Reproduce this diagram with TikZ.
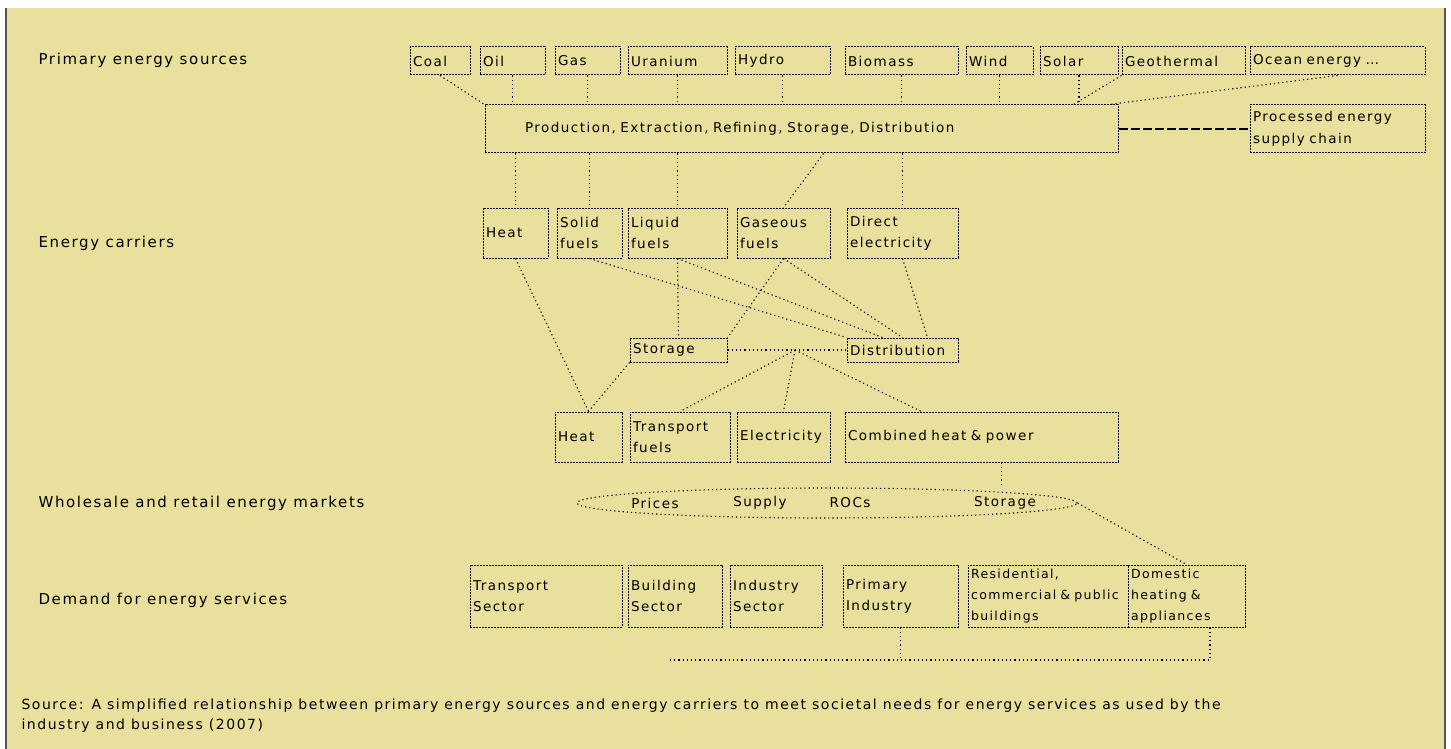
\documentclass[tikz,border=0pt]{standalone}
\usepackage{fontspec}
\setmainfont{DejaVu Sans}
\newfontfamily\spaced[LetterSpace=11]{DejaVu Sans}
\usetikzlibrary{shapes.geometric}
\definecolor{khaki}{RGB}{232,224,156}
\definecolor{frame}{RGB}{85,85,85}
\begin{document}
\begin{tikzpicture}[x=1pt,y=1pt,yscale=-1,
  box/.style={draw, dash pattern=on 1.6pt off 1.4pt, line width=1pt, inner xsep=3pt, inner ysep=2pt,
    font=\spaced\fontsize{13.5}{21}\selectfont, align=left, anchor=center},
  lnk/.style={dash pattern=on 1.2pt off 3pt, line width=1.1pt},
  rowlabel/.style={anchor=west, font=\spaced\fontsize{15}{18}\selectfont},
  mkt/.style={font=\spaced\fontsize{13.5}{16}\selectfont}]

\useasboundingbox (0,0) rectangle (1451,749);
\fill [khaki] (6,8) rectangle (1445,749);
\draw [frame, line width=1.2pt] (6,8) -- (6,749) (1445,8) -- (1445,749);

% row labels
\node [rowlabel] (lprim) at (35,60) {Primary energy sources};
\node [rowlabel] (lcarr) at (35,243) {Energy carriers};
\node [rowlabel] (lmark) at (35,503) {Wholesale and retail energy markets};
\node [rowlabel] (ldem) at (35,600) {Demand for energy services};

% primary sources
\node [box, text width=54, minimum height=28] (coal) at (440,61) {Coal};
\node [box, text width=59, minimum height=28] (oil) at (512.5,61) {Oil};
\node [box, text width=59, minimum height=28] (gas) at (587.5,61) {Gas};
\node [box, text width=93, minimum height=28] (uranium) at (677.5,61) {Uranium};
\node [box, text width=89, minimum height=28] (hydro) at (782.5,61) {Hydro};
\node [box, text width=107, minimum height=28] (biomass) at (901.5,61) {Biomass};
\node [box, text width=61, minimum height=28] (wind) at (999.5,61) {Wind};
\node [box, text width=72, minimum height=28] (solar) at (1079,61) {Solar};
\node [box, text width=117, minimum height=28] (geo) at (1183.5,61) {Geothermal};
\node [box, text width=169, minimum height=28] (ocean) at (1337.5,61) {Ocean energy \dots};

\node [box, inner xsep=40pt, text width=553, minimum height=48] (process) at (801.5,129)
  {Production, Extraction, Refining, Storage, Distribution};
\node [box, text width=169, minimum height=48, font=\spaced\fontsize{13.5}{22}\selectfont] (supply) at (1337.5,129)
  {Processed energy\\supply chain};

\draw [lnk] (coal.south) -- (process.north west);
\draw [lnk] (oil.south) -- (oil.south |- process.north);
\draw [lnk] (gas.south) -- (gas.south |- process.north);
\draw [lnk] (uranium.south) -- (uranium.south |- process.north);
\draw [lnk] (hydro.south) -- (hydro.south |- process.north);
\draw [lnk] (biomass.south) -- (biomass.south |- process.north);
\draw [lnk] (wind.south) -- (wind.south |- process.north);
\draw [lnk] (solar.south) -- (solar.south |- process.north);
\draw [lnk] (geo.south west) -- ([xshift=-45pt]process.north east);
\draw [lnk] (ocean.south) -- ([xshift=-10pt]process.north east);
\draw [dash pattern=on 9pt off 3pt, line width=1.1pt] (process.east) -- (supply.west);

% energy carriers
\node [box, text width=59, minimum height=50] (heatc) at (515.5,233) {Heat};
\node [box, text width=59, minimum height=50] (solid) at (589.5,233) {Solid\\fuels};
\node [box, text width=93, minimum height=50] (liquid) at (677.5,233) {Liquid\\fuels};
\node [box, text width=87, minimum height=50] (gaseous) at (783.5,233) {Gaseous\\fuels};
\node [box, text width=105, minimum height=50] (direct) at (902.5,233) {Direct\\electricity};

\draw [lnk] (heatc.north |- process.south) -- (heatc.north);
\draw [lnk] (solid.north |- process.south) -- (solid.north);
\draw [lnk] (liquid.north |- process.south) -- (liquid.north);
\draw [lnk] ([xshift=40pt]gaseous.north |- process.south) -- (gaseous.north);
\draw [lnk] (direct.north |- process.south) -- (direct.north);

\node [box, text width=91, minimum height=24] (storage) at (678.5,350) {Storage};
\node [box, text width=105, minimum height=24] (distrib) at (902.5,350) {Distribution};
\coordinate (hub) at (795,350);

% final carriers
\node [box, text width=61, minimum height=50] (heatf) at (588.5,437) {Heat};
\node [box, text width=94, minimum height=50] (transport) at (680,437) {Transport\\fuels};
\node [box, text width=87, minimum height=50] (elec) at (783.5,437) {Electricity};
\node [box, text width=267, minimum height=50] (chp) at (981.5,437) {Combined heat \& power};

\draw [lnk] (heatc.south) -- (heatf.north);
\draw [lnk] (solid.south) -- (distrib.north west);
\draw [lnk] (liquid.south) -- ([xshift=-20pt]distrib.north);
\draw [lnk] (liquid.south) -- (storage.north);
\draw [lnk] (gaseous.south) -- (storage.north east);
\draw [lnk] (gaseous.south) -- (distrib.north);
\draw [lnk] (direct.south) -- ([xshift=25pt]distrib.north);
\draw [lnk] (storage.east) -- (distrib.west);
\draw [lnk] (storage.south west) -- (heatf.north);
\draw [lnk] (hub) -- (transport.north);
\draw [lnk] (hub) -- (elec.north);
\draw [lnk] (hub) -- ([xshift=-60pt]chp.north);

% markets
\node [draw, ellipse, lnk, minimum width=500, minimum height=30] (market) at (827,503) {};
\node [mkt] (prices) at (655,503) {Prices};
\node [mkt] (supp) at (760,503) {Supply};
\node [mkt] (rocs) at (850,503) {ROCs};
\node [mkt] (stor) at (1005,503) {Storage};
\draw [lnk] ([xshift=20pt]chp.south) -- ([xshift=20pt]chp.south |- market.north);

% demand for energy services
\node [box, text width=146, minimum height=62] (transsec) at (546,596) {Transport\\Sector};
\node [box, text width=88, minimum height=62] (buildsec) at (675,596) {Building\\Sector};
\node [box, text width=86, minimum height=62] (indsec) at (776,596) {Industry\\Sector};
\node [box, text width=109, minimum height=62] (primind) at (900.5,596) {Primary\\Industry};
\node [box, text width=154, minimum height=62, font=\spaced\fontsize{12.5}{21}\selectfont] (resid) at (1048,596) {Residential,\\commercial \& public\\buildings};
\node [box, text width=111, minimum height=62, font=\spaced\fontsize{12.5}{21}\selectfont] (domestic) at (1186.5,596) {Domestic\\heating \&\\appliances};

\draw [lnk] (market.east) -- (domestic.north);

\coordinate (bl) at (670,660);
\coordinate (br) at (1210,660);
\draw [lnk] (primind.south) -- (primind.south |- bl);
\draw [lnk] (bl) -- (br) -- (br |- domestic.south);

% footnote
\node [anchor=north west, align=left, font=\spaced\fontsize{14}{20}\selectfont] (src) at (18,695)
  {Source: A simplified relationship between primary energy sources and energy carriers to meet societal needs for energy services as used by the\\
   industry and business (2007)};
\end{tikzpicture}
\end{document}
